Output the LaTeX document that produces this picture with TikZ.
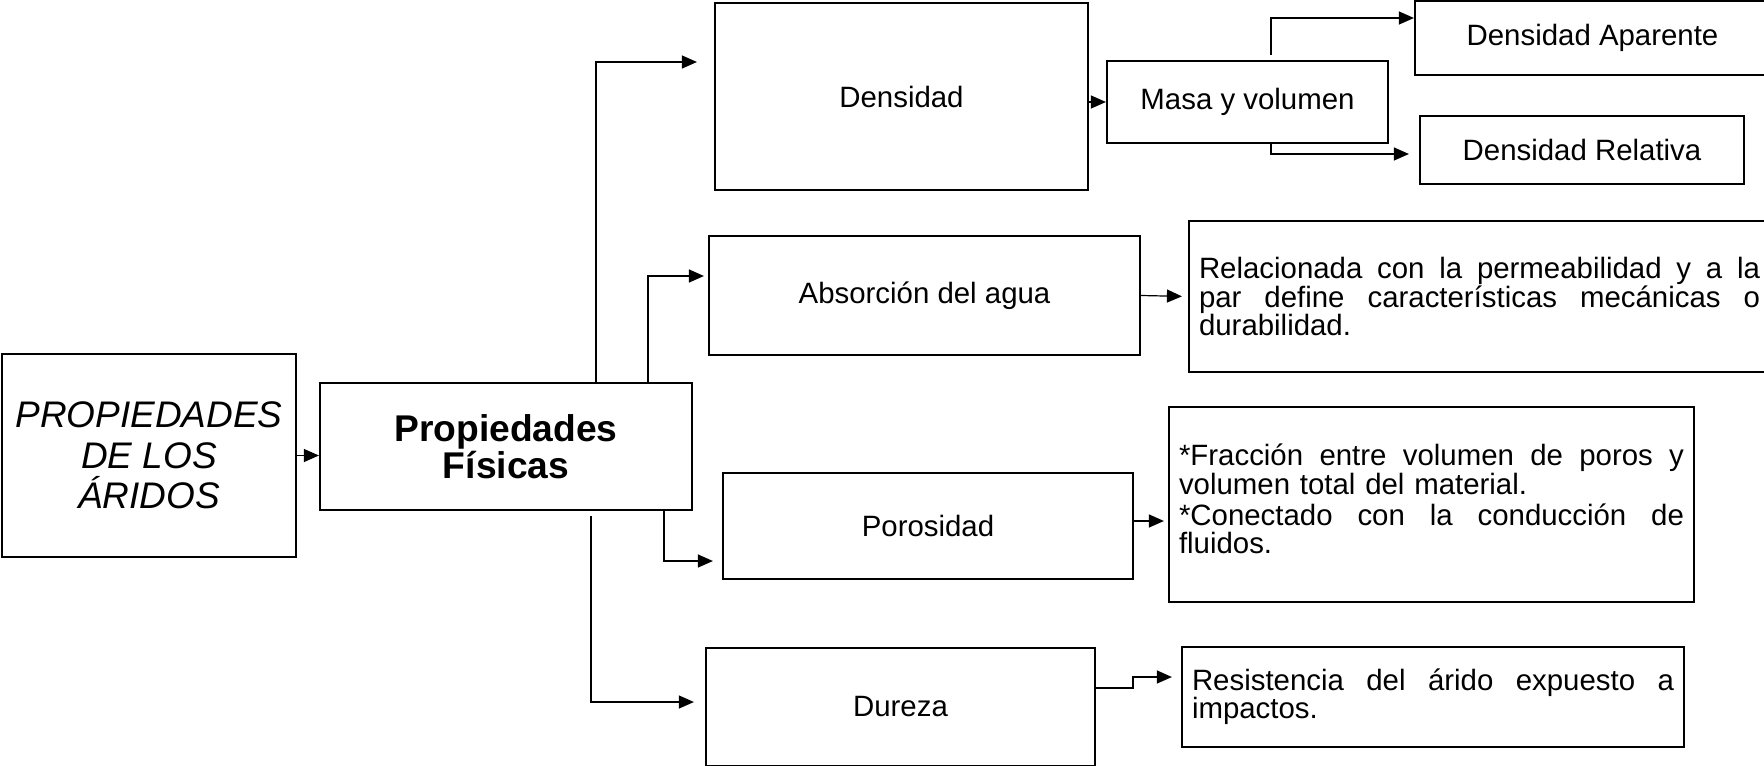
\documentclass[tikz,border=0pt]{standalone}
\usepackage{fontspec}
\setmainfont{Liberation Sans}
\usetikzlibrary{arrows.meta}
% one justified line of a note, #1 = width
\newcommand{\jline}[2]{\makebox[#1][s]{\spaceskip=0pt\relax#2}}

\begin{document}
\begin{tikzpicture}[x=0.5pt, y=-0.5pt,
    box/.style={draw, line width=1.1pt, inner sep=0pt, align=center,
      font=\fontsize{14.7}{15}\selectfont},
    notebox/.style={draw, line width=1.1pt, inner xsep=5pt, inner ysep=0pt,
      align=left, font=\fontsize{14.7}{14.1}\selectfont},
    conn/.style={line width=0.6pt, -{Triangle[length=7.5pt, width=6.5pt]}}]

  \useasboundingbox (0,0) rectangle (1764,765);
  \clip (0,0) rectangle (1764,765);

  % --- Left: main boxes
  \node[box, minimum width=147pt, minimum height=101.5pt,
        font=\fontsize{18.5}{20.2}\selectfont\itshape] (arid) at (149,455.5)
        {PROPIEDADES\\DE LOS\\ÁRIDOS};
  \node[box, minimum width=186pt, minimum height=63.5pt,
        font=\fontsize{18.6}{18.5}\selectfont\bfseries] (fis) at (506,446.5)
        {Propiedades\\Físicas};

  % --- Middle: properties
  \node[box, minimum width=186.5pt, minimum height=93.5pt] (dens) at (901.5,96.5) {Densidad};
  \node[box, minimum width=215.5pt, minimum height=59.5pt] (abs) at (924.5,295.5) {Absorción del agua};
  \node[box, minimum width=205pt, minimum height=53pt] (poro) at (928,526) {Porosidad};
  \node[box, minimum width=194.5pt, minimum height=59pt] (dur) at (900.5,707) {Dureza};

  % --- Right: density branch
  \node[box, minimum width=140.5pt, minimum height=41pt] (masa) at (1247.5,102) {Masa y volumen};
  \node[box, minimum width=177.5pt, minimum height=37pt] (apar) at (1592.5,38) {Densidad Aparente};
  \node[box, minimum width=162pt, minimum height=34pt] (rela) at (1582,150) {Densidad Relativa};

  % --- Right: notes
  \node[notebox, text width=280.5pt, minimum height=75.5pt] (relac) at (1479.5,296.5)
        {\jline{280.5pt}{Relacionada con la permeabilidad y a la}\\
         \jline{280.5pt}{par define características mecánicas o}\\
         durabilidad.};
  \node[notebox, text width=252.5pt, minimum height=97.5pt] (frac) at (1431.5,504.5)
        {\jline{252.5pt}{*Fracción entre volumen de poros y}\\
         volumen total del material.\\[1.5pt]
         \jline{252.5pt}{*Conectado con la conducción de}\\
         fluidos.\par\kern5.5pt};
  \node[notebox, text width=241pt, minimum height=50pt] (res) at (1433,697)
        {\jline{241pt}{Resistencia del árido expuesto a}\\
         impactos.};

  % --- Connectors
  \draw[conn] (arid.east) -- (arid.east -| fis.west);

  \coordinate (k1) at (596,62);
  \draw[conn, shorten >=8.5pt] (k1 |- fis.north) -- (k1) -- (k1 -| dens.west);
  \coordinate (k2) at (648,276);
  \draw[conn, shorten >=2pt] (k2 |- fis.north) -- (k2) -- (k2 -| abs.west);
  \coordinate (k3) at (664,561);
  \draw[conn, shorten >=4.5pt] (k3 |- fis.south) -- (k3) -- (k3 -| poro.west);
  \coordinate (k4) at (591,702);
  \draw[conn, shorten <=2.5pt, shorten >=5.5pt] (k4 |- fis.south) -- (k4) -- (k4 -| dur.west);

  \draw[conn] (masa.west -| dens.east) -- (masa.west);
  \coordinate (k5) at (1271,18);
  \draw[conn, shorten <=2.5pt] (k5 |- masa.north) -- (k5) -- (k5 -| apar.west);
  \coordinate (k6) at (1271,154);
  \draw[conn, shorten >=5pt] (k6 |- masa.south) -- (k6) -- (k6 -| rela.west);

  \draw[conn, shorten >=3pt] (abs.east) -- (relac.west);
  \coordinate (k7) at (1150,521);
  \draw[conn, shorten >=2pt] (k7 -| poro.east) -- (k7 -| frac.west);
  \coordinate (k8) at (1133,688);
  \coordinate (k9) at (1133,677);
  \draw[conn, shorten >=4.5pt] (k8 -| dur.east) -- (k8) -- (k9) -- (k9 -| res.west);
\end{tikzpicture}
\end{document}
